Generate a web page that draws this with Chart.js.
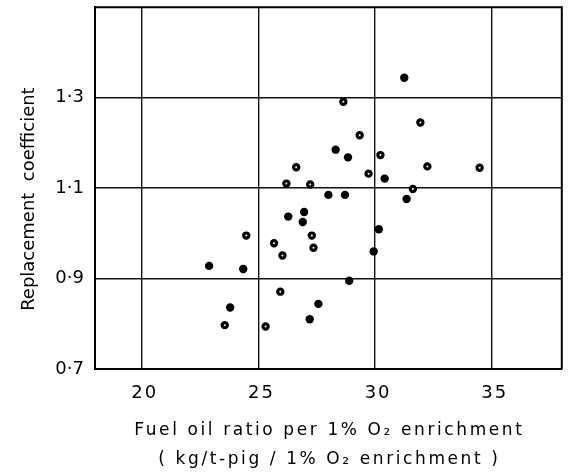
<!DOCTYPE html>
<html>
<head>
<meta charset="utf-8">
<script src="https://cdn.jsdelivr.net/npm/chart.js@4.4.1/dist/chart.umd.min.js"></script>
<style>
  html, body { margin: 0; padding: 0; background: #fff; }
  #wrap { width: 569px; height: 475px; }
</style>
</head>
<body>
<div id="wrap"><canvas id="scatterChart"></canvas></div>
<script>
// solid black points
const solidX = [31.25, 28.31, 28.84, 30.41, 28.0, 28.71, 31.35, 26.96, 26.28, 26.9, 30.16, 29.94, 22.89, 24.35, 28.89, 23.79, 27.57, 27.2];
const solidY = [1.344, 1.185, 1.168, 1.121, 1.085, 1.085, 1.076, 1.047, 1.037, 1.025, 1.009, 0.960, 0.928, 0.921, 0.895, 0.836, 0.844, 0.810];
// points with a small white centre
const ringX = [28.64, 31.94, 29.34, 30.23, 26.62, 32.24, 34.48, 29.72, 26.2, 27.22, 31.62, 24.48, 27.29, 25.67, 27.36, 26.03, 25.94, 23.56, 25.31];
const ringY = [1.291, 1.245, 1.217, 1.173, 1.146, 1.148, 1.145, 1.132, 1.110, 1.108, 1.098, 0.995, 0.995, 0.978, 0.968, 0.951, 0.871, 0.797, 0.794];

const xTicks = [20, 25, 30, 35];
const yTicks = [0.7, 0.9, 1.1, 1.3];
const yTickLabels = ['0·7', '0·9', '1·1', '1·3'];

const toPoints = (xs, ys) => xs.map((x, i) => ({ x: x, y: ys[i] }));

const fontFamily = '"DejaVu Sans", sans-serif';

// wraps a scale's draw step so it runs with extra letter spacing / offset
const withCtx = (scale, method, spacing, dx, dy) => {
  const orig = scale[method].bind(scale);
  scale[method] = (...args) => {
    const ctx = scale.ctx;
    ctx.save();
    ctx.letterSpacing = spacing;
    ctx.translate(dx, dy);
    orig(...args);
    ctx.restore();
  };
};

const chart = new Chart(document.getElementById('scatterChart'), {
  type: 'scatter',
  data: {
    datasets: [
      {
        label: 'solid',
        data: toPoints(solidX, solidY),
        backgroundColor: '#000',
        borderColor: '#000',
        borderWidth: 0,
        pointRadius: 4.2
      },
      {
        label: 'ring',
        data: toPoints(ringX, ringY),
        backgroundColor: '#fff',
        borderColor: '#000',
        borderWidth: 3.2,
        pointRadius: 2.6
      }
    ]
  },
  options: {
    responsive: true,
    maintainAspectRatio: false,
    animation: false,
    layout: { padding: { top: 7, right: 3, left: 0, bottom: 0 } },
    plugins: {
      legend: { display: false },
      tooltip: { enabled: false }
    },
    scales: {
      x: {
        type: 'linear',
        min: 18,
        max: 38,
        afterBuildTicks: (scale) => { scale.ticks = xTicks.map(v => ({ value: v })); },
        afterFit: (scale) => {
          scale.height = 106;
          scale.paddingLeft = 0;
          scale.paddingRight = 0;
        },
        ticks: {
          color: '#000',
          padding: 14,
          font: { family: fontFamily, size: 18 }
        },
        grid: { color: '#111', lineWidth: 1.4, drawTicks: false },
        border: { display: true, color: '#000', width: 2 },
        title: {
          display: true,
          text: ['Fuel oil ratio per 1% O₂ enrichment', '( kg/t-pig / 1% O₂ enrichment )'],
          color: '#000',
          font: { family: fontFamily, size: 17, lineHeight: 1.7 },
          padding: { top: 0, bottom: 1 }
        }
      },
      y: {
        type: 'linear',
        min: 0.7,
        max: 1.5,
        afterBuildTicks: (scale) => { scale.ticks = yTicks.map(v => ({ value: v })); },
        afterFit: (scale) => {
          scale.width = 95;
          scale.paddingTop = 0;
          scale.paddingBottom = 0;
        },
        ticks: {
          color: '#000',
          padding: 11,
          font: { family: fontFamily, size: 18 },
          callback: (value) => {
            const i = yTicks.findIndex(t => Math.abs(t - value) < 1e-6);
            return i >= 0 ? yTickLabels[i] : '';
          }
        },
        grid: { color: '#111', lineWidth: 1.4, drawTicks: false },
        border: { display: true, color: '#000', width: 2 },
        title: {
          display: true,
          text: 'Replacement  coefficient',
          color: '#000',
          font: { family: fontFamily, size: 18, lineHeight: 1.2 },
          padding: { top: 19, bottom: 0 }
        }
      }
    }
  },
  plugins: [{
    id: 'spacing',
    beforeDraw: (c) => {
      if (c._spacingDone) return;
      withCtx(c.scales.x, 'drawTitle', '2.6px', 1, 0);
      withCtx(c.scales.x, 'drawLabels', '2px', 3, 0);
      withCtx(c.scales.y, 'drawTitle', '0px', 0, 11);
      c._spacingDone = true;
    }
  }, {
    // right and top edges of the frame
    id: 'frame',
    afterDraw: (c) => {
      const a = c.chartArea;
      const ctx = c.ctx;
      ctx.save();
      ctx.strokeStyle = '#000';
      ctx.lineWidth = 2;
      ctx.beginPath();
      ctx.moveTo(a.left, a.top);
      ctx.lineTo(a.right, a.top);
      ctx.lineTo(a.right, a.bottom);
      ctx.stroke();
      ctx.restore();
    }
  }]
});
</script>
</body>
</html>
